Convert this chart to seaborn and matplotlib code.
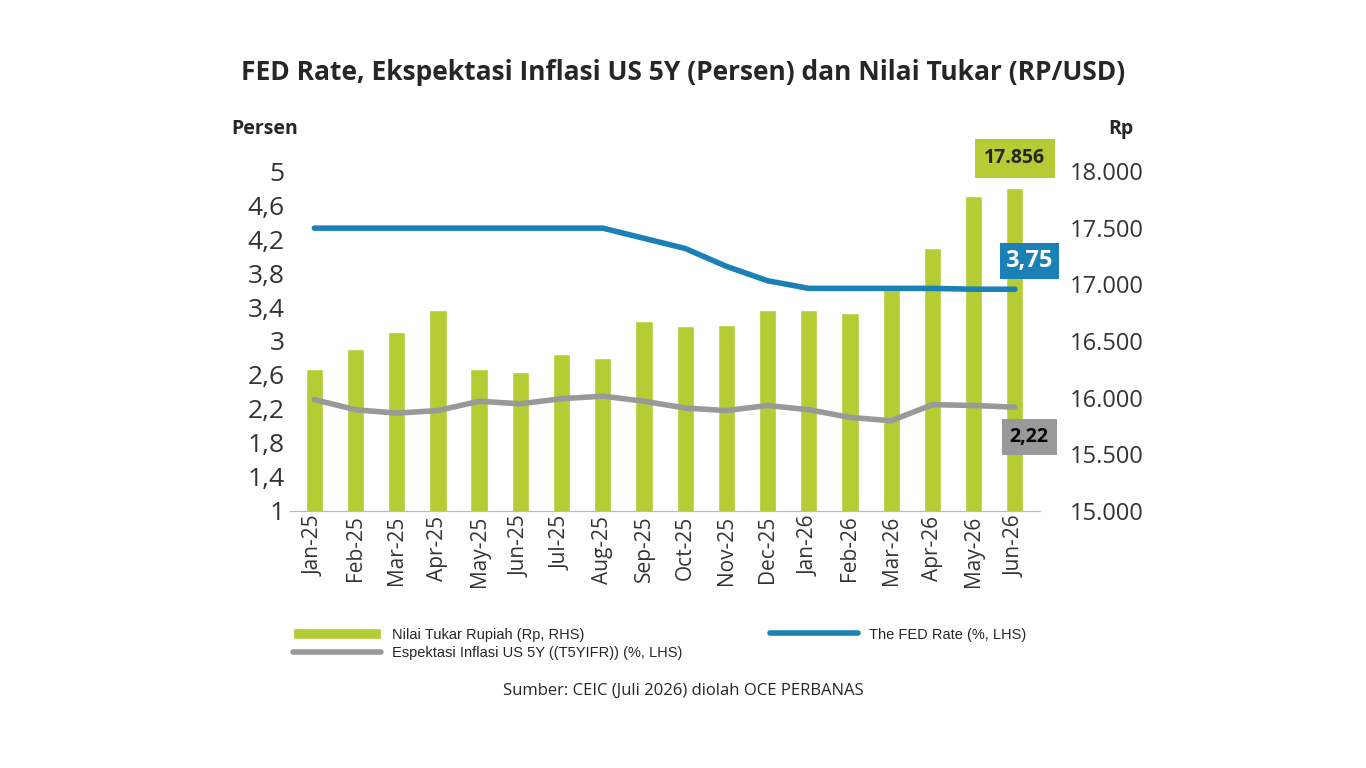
import numpy as np
import matplotlib
matplotlib.use("Agg")
import matplotlib.pyplot as plt
import seaborn as sns
import pandas as pd

months = ['Jan-25', 'Feb-25', 'Mar-25', 'Apr-25', 'May-25', 'Jun-25', 'Jul-25', 'Aug-25',
          'Sep-25', 'Oct-25', 'Nov-25', 'Dec-25', 'Jan-26', 'Feb-26', 'Mar-26', 'Apr-26',
          'May-26', 'Jun-26']
rupiah = [16253, 16430, 16580, 16774, 16253, 16227, 16386, 16350, 16677, 16633, 16641,
          16774, 16774, 16747, 16950, 17321, 17780, 17856]
fed_rate = [4.33, 4.33, 4.33, 4.33, 4.33, 4.33, 4.33, 4.33, 4.21, 4.09, 3.88, 3.71,
            3.62, 3.62, 3.62, 3.62, 3.61, 3.61]
inflasi = [2.31, 2.19, 2.15, 2.18, 2.29, 2.26, 2.32, 2.35, 2.29, 2.21, 2.18, 2.24,
           2.19, 2.10, 2.06, 2.25, 2.24, 2.22]

df = pd.DataFrame({'month': months, 'rupiah': rupiah, 'fed': fed_rate, 'inf': inflasi})
x = np.arange(len(months))

sns.set_style("white")
plt.rcParams['font.family'] = ['Open Sans', 'DejaVu Sans']

fig = plt.figure(figsize=(13.66, 7.68), dpi=100)
ax1 = fig.add_axes([0.212, 0.335, 0.549, 0.442])
ax2 = ax1.twinx()

green = '#b5cc34'
blue = '#1a80b5'
grey = '#999999'

ax2.bar(x, df['rupiah'], width=0.42, color=green, label='Nilai Tukar Rupiah (Rp, RHS)', zorder=1)
ax2.set_ylim(15000, 18000)
ax2.set_yticks(np.arange(15000, 18001, 500))
ax2.set_yticklabels([f"{v:,}".replace(',', '.') for v in range(15000, 18001, 500)], fontsize=17, color='#333333')
ax2.tick_params(axis='y', pad=22)

ax1.set_zorder(ax2.get_zorder() + 1)
ax1.patch.set_visible(False)
sns.lineplot(x=x, y=df['fed'], ax=ax1, color=blue, lw=4, label='The FED Rate (%, LHS)')
sns.lineplot(x=x, y=df['inf'], ax=ax1, color=grey, lw=4, label='Espektasi Inflasi US 5Y ((T5YIFR)) (%, LHS)')
ax1.set_ylim(1, 5)
ax1.set_yticks([1, 1.4, 1.8, 2.2, 2.6, 3, 3.4, 3.8, 4.2, 4.6, 5])
ax1.set_yticklabels(['1', '1,4', '1,8', '2,2', '2,6', '3', '3,4', '3,8', '4,2', '4,6', '5'], fontsize=19, color='#333333')
ax1.set_xlim(-0.6, len(months) - 0.4)
ax1.set_xticks(x)
ax1.set_xticklabels(months, rotation=90, fontsize=15, color='#333333')
ax1.set_ylabel('')
for a in (ax1, ax2):
    for s in ['top', 'left', 'right']:
        a.spines[s].set_visible(False)
    a.spines['bottom'].set_color('#bbbbbb')
    a.tick_params(length=0)
ax1.get_legend().remove()

fig.text(0.169, 0.825, 'Persen', fontsize=14, fontweight='bold', ha='left')
fig.text(0.811, 0.825, 'Rp', fontsize=14, fontweight='bold', ha='left')

ax2.text(17, 18115, '17.856', fontsize=14, fontweight='bold',
         ha='center', va='center', bbox=dict(boxstyle='square,pad=0.5', fc=green, ec='none'))
ax1.text(17.35, 3.94, '3,75', fontsize=17, fontweight='bold', color='white',
         ha='center', va='center', bbox=dict(boxstyle='square,pad=0.25', fc=blue, ec='none'))
ax1.text(17.35, 1.87, '2,22', fontsize=14, fontweight='bold', color='black',
         ha='center', va='center', bbox=dict(boxstyle='square,pad=0.4', fc=grey, ec='none'))

h2, l2 = ax2.get_legend_handles_labels()
h1, l1 = ax1.get_legend_handles_labels()
fig.legend([h2[0], h1[1], h1[0]], [l2[0], l1[1], l1[0]], ncol=2, loc='upper left',
           bbox_to_anchor=(0.205, 0.200), frameon=False, handlelength=6,
           columnspacing=6, labelspacing=0.3, prop={'family': 'Liberation Sans', 'size': 10.5})

fig.text(0.5, 0.905, 'FED Rate, Ekspektasi Inflasi US 5Y (Persen) dan Nilai Tukar (RP/USD)',
         fontsize=19, fontweight='bold', ha='center', va='center')
fig.text(0.5, 0.1, 'Sumber: CEIC (Juli 2026) diolah OCE PERBANAS', fontsize=12, ha='center', va='center')

fig.savefig('out.png', dpi=100)
